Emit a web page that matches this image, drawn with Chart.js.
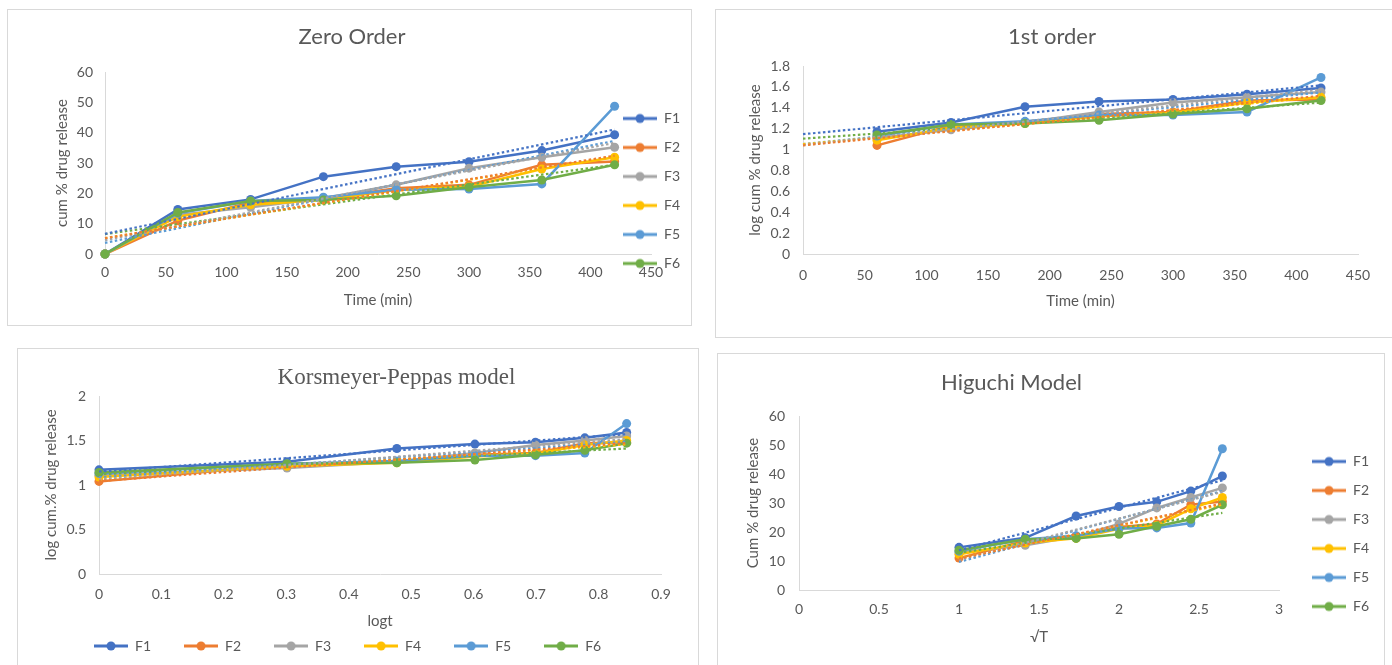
<!DOCTYPE html>
<html>
<head>
<meta charset="utf-8">
<script src="https://cdn.jsdelivr.net/npm/chart.js@4.4.1/dist/chart.umd.min.js"></script>
<style>
  html, body { margin: 0; padding: 0; background: #fff; width: 1392px; height: 665px; overflow: hidden; }
  .panel { position: absolute; border: 1px solid #d9d9d9; background: #fff; }
  .panel canvas { position: absolute; left: 0; top: 0; }
</style>
</head>
<body>
<div class="panel" style="left:7px;top:9px;width:683px;height:315px"><canvas id="zeroChart" width="683" height="315"></canvas></div>
<div class="panel" style="left:715px;top:9px;width:678px;height:327px"><canvas id="firstChart" width="676" height="327"></canvas></div>
<div class="panel" style="left:17px;top:348px;width:680px;height:330px"><canvas id="kpChart" width="680" height="316"></canvas></div>
<div class="panel" style="left:717px;top:353px;width:666px;height:330px"><canvas id="higuchiChart" width="666" height="311"></canvas></div>
<script>
// x values
const timeMin = [0, 60, 120, 180, 240, 300, 360, 420];
const sqrtTime = [1, 1.414, 1.732, 2, 2.236, 2.449, 2.646];
const logTime = [0, 0.301, 0.477, 0.602, 0.699, 0.778, 0.845];

const seriesNames = ['F1', 'F2', 'F3', 'F4', 'F5', 'F6'];
const seriesColors = ['#4472C4', '#ED7D31', '#A5A5A5', '#FFC000', '#5B9BD5', '#70AD47'];

// cumulative % drug release at timeMin
const cumF1 = [0, 14.7, 18, 25.5, 28.8, 30.4, 34.1, 39.3];
const cumF2 = [0, 11, 17, 18.2, 21.7, 22.8, 29.4, 30.5];
const cumF3 = [0, 12.9, 15.4, 18.4, 22.8, 28.3, 31.9, 35.2];
const cumF4 = [0, 12.3, 16.2, 17.8, 21.1, 22.2, 28, 31.9];
const cumF5 = [0, 13.4, 17.5, 18.7, 21.2, 21.4, 23.1, 48.7];
const cumF6 = [0, 13.7, 17.5, 17.8, 19.2, 22, 24.4, 29.4];

// log cumulative % drug release (60..420 min)
const logF1 = [1.17, 1.26, 1.41, 1.46, 1.48, 1.53, 1.59];
const logF2 = [1.04, 1.23, 1.26, 1.34, 1.36, 1.47, 1.48];
const logF3 = [1.11, 1.19, 1.26, 1.36, 1.45, 1.50, 1.55];
const logF4 = [1.09, 1.21, 1.25, 1.32, 1.35, 1.45, 1.50];
const logF5 = [1.13, 1.24, 1.27, 1.33, 1.33, 1.36, 1.69];
const logF6 = [1.14, 1.24, 1.25, 1.28, 1.34, 1.39, 1.47];

const cumSeries = [cumF1, cumF2, cumF3, cumF4, cumF5, cumF6];
const logSeries = [logF1, logF2, logF3, logF4, logF5, logF6];

const TEXT = '#595959';
const AXIS = '#d9d9d9';

// least squares line, like the excel linear trendline
function linearFit(xs, ys) {
  const n = xs.length;
  const mx = xs.reduce((a, b) => a + b, 0) / n;
  const my = ys.reduce((a, b) => a + b, 0) / n;
  let sxy = 0, sxx = 0;
  for (let i = 0; i < n; i++) {
    sxy += (xs[i] - mx) * (ys[i] - my);
    sxx += (xs[i] - mx) * (xs[i] - mx);
  }
  const b = sxy / sxx, a = my - b * mx;
  return x => a + b * x;
}

function buildDatasets(xs, seriesList, trendFrom, trendTo) {
  const sets = [];
  seriesList.forEach((ys, i) => {
    const name = seriesNames[i], color = seriesColors[i];
    const f = linearFit(xs, ys);
    sets.push({
      label: name, data: xs.map((x, k) => ({ x, y: ys[k] })),
      borderColor: color, backgroundColor: color, borderWidth: 2.5,
      pointRadius: 4.5, pointBorderWidth: 0, pointBackgroundColor: color,
      tension: 0, clip: false, order: 6 - i
    });
    sets.push({
      label: 'Linear (' + name + ')',
      data: [{ x: trendFrom, y: f(trendFrom) }, { x: trendTo, y: f(trendTo) }],
      borderColor: color, borderWidth: 2.2, borderDash: [2.5, 2.5],
      pointRadius: 0, clip: false, order: 0
    });
  });
  return sets;
}

// legend icons: short line with a marker
const legendIcons = {};
seriesNames.forEach((name, i) => {
  const c = document.createElement('canvas');
  c.width = 34; c.height = 12;
  const g = c.getContext('2d');
  g.strokeStyle = seriesColors[i]; g.lineWidth = 2.8;
  g.beginPath(); g.moveTo(0, 6); g.lineTo(34, 6); g.stroke();
  g.fillStyle = seriesColors[i];
  g.beginPath(); g.arc(17, 6, 4.5, 0, Math.PI * 2); g.fill();
  legendIcons[name] = c;
});

function legendLabels(chart) {
  return Chart.defaults.plugins.legend.labels.generateLabels(chart)
    .filter(it => !it.text.startsWith('Linear'))
    .map(it => { it.pointStyle = legendIcons[it.text]; return it; })
    .sort((a, b) => a.text.localeCompare(b.text));
}

// legend takes no room in the layout and is placed where excel had it
const placeBlocks = {
  id: 'place',
  beforeLayout(chart) {
    const lg = chart.legend;
    if (lg && !lg._patched) {
      const fit = lg.fit;
      lg.fit = function () {
        fit.call(this);
        if (this.isHorizontal()) this.height = 0; else this.width = 0;
      };
      lg._patched = true;
    }
  },
  afterLayout(chart, args, opts) {
    const lg = chart.legend;
    if (lg && opts.legendX !== undefined) {
      const pad = lg.options.labels.padding;
      const ih = 14;
      if (lg.isHorizontal()) {
        lg.left = opts.legendX - pad;
        lg.right = opts.legendX + lg.lineWidths[0] + 2;
        lg.top = opts.legendY - ih / 2 - pad;
        lg.bottom = chart.height;
      } else {
        const t = opts.legendY - ih / 2;
        lg.left = opts.legendX - pad;
        lg.right = chart.width;
        lg.top = t - pad;
        lg.bottom = t + lg.columnSizes[0].height + 1;
      }
    }
    if (opts.titleShift) {
      chart.titleBlock.left += opts.titleShift;
      chart.titleBlock.right += opts.titleShift;
    }
  }
};

// excel style numbers: 1 not 1.0
const tickText = v => String(Number(v.toFixed(3)));

function axis(a) {
  return {
    type: 'linear', min: a.min, max: a.max,
    ticks: { stepSize: a.step, color: TEXT, font: { family: 'Lato', size: 14 }, padding: a.tickPad, callback: tickText },
    grid: { display: false, drawTicks: false },
    border: { display: true, color: AXIS, width: 1 },
    title: { display: true, text: a.title, color: TEXT, font: { family: 'Lato', size: 15 }, padding: 0 },
    afterFit: s => { if (s.isHorizontal()) s.height = a.size; else s.width = a.size; }
  };
}

function makeChart(id, cfg) {
  const legend = cfg.legend ? {
    display: true, position: cfg.legend.position,
    labels: {
      usePointStyle: true, pointStyleWidth: 34, padding: cfg.legend.padding,
      color: TEXT, font: { family: 'Lato', size: 14 }, generateLabels: legendLabels
    }
  } : { display: false };
  return new Chart(document.getElementById(id), {
    type: 'line',
    data: { datasets: cfg.datasets },
    options: {
      responsive: false, animation: false, events: [],
      layout: { padding: cfg.pad },
      scales: { x: axis(cfg.x), y: axis(cfg.y) },
      plugins: {
        title: {
          display: true, text: cfg.title, color: TEXT,
          font: cfg.titleFont, padding: cfg.titlePad
        },
        legend,
        tooltip: { enabled: false },
        place: cfg.place || {}
      }
    },
    plugins: [placeBlocks]
  });
}

makeChart('zeroChart', {
  title: 'Zero Order',
  titleFont: { family: 'Lato', size: 22, weight: 'normal' },
  titlePad: { top: 13.8, bottom: 21.8 },
  pad: { left: 45, right: 40, top: 0, bottom: 16 },
  x: { min: 0, max: 450, step: 50, title: 'Time (min)', size: 55, tickPad: 10 },
  y: { min: 0, max: 60, step: 10, title: 'cum % drug release', size: 52, tickPad: 12 },
  datasets: buildDatasets(timeMin, cumSeries, 0, 420),
  legend: { position: 'right', padding: 15 },
  place: { legendX: 615, legendY: 108 }
});

makeChart('firstChart', {
  title: '1st order',
  titleFont: { family: 'Lato', size: 22, weight: 'normal' },
  titlePad: { top: 13.8, bottom: 15.8 },
  pad: { left: 30, right: 34, top: 0, bottom: 27 },
  x: { min: 0, max: 450, step: 50, title: 'Time (min)', size: 56, tickPad: 13 },
  y: { min: 0, max: 1.8, step: 0.2, title: 'log cum % drug release', size: 57, tickPad: 13 },
  datasets: buildDatasets(timeMin.slice(1), logSeries, 0, 420)
});

makeChart('kpChart', {
  title: 'Korsmeyer-Peppas model',
  titleFont: { family: 'Liberation Serif', size: 23, weight: 'normal' },
  titlePad: { top: 15.2, bottom: 4.2 },
  pad: { left: 24, right: 37, top: 0, bottom: 35 },
  x: { min: 0, max: 0.9, step: 0.1, title: 'logt', size: 56, tickPad: 12 },
  y: { min: 0, max: 2, step: 0.5, title: 'log cum.% drug release', size: 57, tickPad: 13 },
  datasets: buildDatasets(logTime, logSeries, 0, 0.845),
  legend: { position: 'bottom', padding: 33 },
  place: { legendX: 75, legendY: 297, titleShift: 45 }
});

makeChart('higuchiChart', {
  title: 'Higuchi Model',
  titleFont: { family: 'Lato', size: 22, weight: 'normal' },
  titlePad: { top: 15.8, bottom: 19.8 },
  pad: { left: 26, right: 105, top: 0, bottom: 19 },
  x: { min: 0, max: 3, step: 0.5, title: '√T', size: 56, tickPad: 11 },
  y: { min: 0, max: 60, step: 10, title: 'Cum % drug release', size: 55, tickPad: 14 },
  datasets: buildDatasets(sqrtTime, cumSeries.map(s => s.slice(1)), 1, 2.646),
  legend: { position: 'right', padding: 15 },
  place: { legendX: 594, legendY: 107 }
});
</script>
</body>
</html>
